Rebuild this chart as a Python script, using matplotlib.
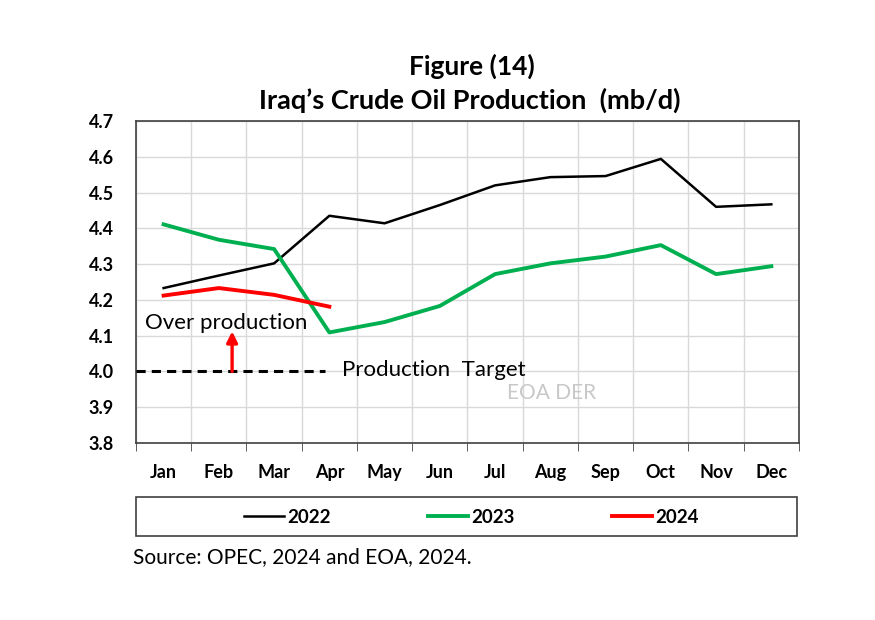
import matplotlib.pyplot as plt
from matplotlib.patches import Rectangle
import numpy as np

months = ["Jan", "Feb", "Mar", "Apr", "May", "Jun", "Jul", "Aug", "Sep", "Oct", "Nov", "Dec"]
prod_2022 = [4.233, 4.268, 4.302, 4.435, 4.414, 4.465, 4.520, 4.543, 4.546, 4.594, 4.460, 4.467]
prod_2023 = [4.411, 4.368, 4.342, 4.109, 4.138, 4.183, 4.272, 4.302, 4.321, 4.353, 4.272, 4.294]
prod_2024 = [4.212, 4.233, 4.214, 4.181]
target = 4.0

plt.rcParams['font.family'] = ['Lato', 'DejaVu Sans']

fig = plt.figure(figsize=(8.75, 6.2), dpi=100)
ax = fig.add_axes([0.1554, 0.2855, 0.7577, 0.5194])

x = np.arange(len(months))
ax.plot(x, prod_2022, color="black", lw=1.8, label="2022", zorder=3)
ax.plot(x, prod_2023, color="#00b050", lw=2.8, label="2023", zorder=3)
ax.plot(x[:len(prod_2024)], prod_2024, color="#ff0000", lw=2.8, label="2024", zorder=4)

# target line and annotations
ax.plot([-0.5, 2.92], [target, target], color="black", lw=2.2, ls=(0, (3.0, 2.0)), zorder=3)
ax.annotate("", xy=(1.24, 4.112), xytext=(1.24, target),
            arrowprops=dict(arrowstyle="-|>", color="#ff0000", lw=2.4, mutation_scale=16,
                            shrinkA=0, shrinkB=0), zorder=4)
ax.text(-0.34, 4.135, "Over production", fontsize=16, va="center", ha="left")
ax.text(3.23, 4.003, "Production  Target", fontsize=16, va="center", ha="left")
ax.text(7.03, 3.94, "EOA DER", fontsize=15, va="center", ha="center", color="#c8c8c8")

ax.set_xlim(-0.5, 11.5)
ax.set_ylim(3.8, 4.7)
ax.set_yticks(np.arange(3.8, 4.71, 0.1))
ax.set_yticklabels([f"{v:.1f}" for v in np.arange(3.8, 4.71, 0.1)], fontsize=13, fontweight="bold")
ax.set_xticks(x)
ax.set_xticklabels(months, fontsize=13, fontweight="bold")
ax.set_xticks(np.arange(-0.5, 12, 1), minor=True)
ax.tick_params(axis="x", which="major", length=0, pad=15)
ax.tick_params(axis="x", which="minor", length=6, direction="out", color="#404040")
ax.tick_params(axis="y", length=0, pad=16)
ax.grid(True, which="minor", axis="x", color="#d9d9d9", lw=1)
ax.grid(True, which="major", axis="y", color="#d9d9d9", lw=1)
for s in ax.spines.values():
    s.set_color("#404040")
    s.set_linewidth(1.2)

fig.text(0.539, 0.893, "Figure (14)", fontsize=19, fontweight="bold", ha="center", va="center")
fig.text(0.537, 0.838, "Iraq\u2019s Crude Oil Production  (mb/d)", fontsize=19.5, fontweight="bold",
         ha="center", va="center")

leg = fig.legend(loc="center", bbox_to_anchor=(0.539, 0.166), ncol=3, frameon=False,
                 prop=dict(size=13.5, weight="bold"), handlelength=2.1, handletextpad=0.2,
                 columnspacing=5.2)
fig.patches.append(Rectangle((0.1554, 0.135), 0.7554, 0.063, transform=fig.transFigure,
                             fill=False, edgecolor="#404040", lw=1.2))

fig.text(0.152, 0.102, "Source: OPEC, 2024 and EOA, 2024.", fontsize=15, ha="left", va="center")

fig.savefig("out.png", dpi=100)
